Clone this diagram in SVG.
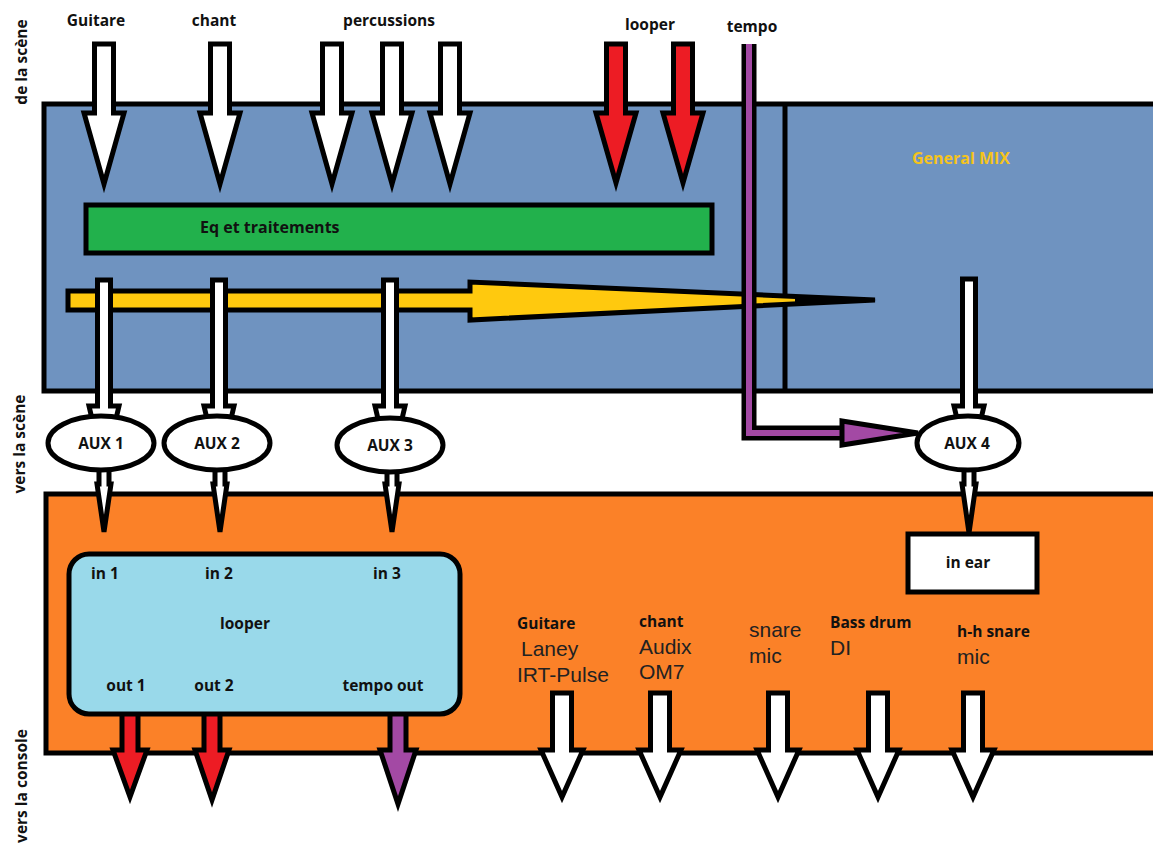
<svg xmlns="http://www.w3.org/2000/svg" width="1153" height="846" viewBox="0 0 1153 846">
<style>
.b{font-family:"Open Sans","Liberation Sans",sans-serif;font-weight:bold;font-size:15.5px;fill:#111;text-anchor:middle}
.r{font-family:"Liberation Sans",Arial,sans-serif;font-size:21px;fill:#222}
.bl{font-family:"Open Sans","Liberation Sans",sans-serif;font-weight:bold;font-size:15.5px;fill:#111}
.k{stroke:#000;stroke-width:5;stroke-linejoin:miter}
.w{fill:#fff}
.red{fill:#ed1c24}
.pur{fill:#a349a4}
</style>
<rect width="1153" height="846" fill="#fff"/>
<g id="side-labels">
<text class="b" transform="translate(27,62) rotate(-90)">de la scène</text>
<text class="b" transform="translate(25,444) rotate(-90)">vers la scène</text>
<text class="b" transform="translate(27,786) rotate(-90)">vers la console</text>
</g>
<g id="panel-mix">
<rect class="k" x="44" y="104" width="1115" height="287" fill="#6f93c0"/>
<line x1="785" y1="104" x2="785" y2="391" stroke="#000" stroke-width="5"/>
<text class="bl" x="912" y="164" style="fill:#f5c31c;font-size:16px">General MIX</text>
</g>
<g id="panel-stage">
<rect class="k" x="46" y="494" width="1113" height="259" fill="#fb8128"/>
</g>
<g id="eq">
<rect class="k" x="86" y="205" width="626" height="48" fill="#22b14c"/>
<text class="bl" x="200" y="233" style="font-size:16px">Eq et traitements</text>
</g>
<g id="top-labels">
<text class="b" x="96" y="26">Guitare</text>
<text class="b" x="214" y="26">chant</text>
<text class="b" x="389" y="26">percussions</text>
<text class="b" x="650" y="30">looper</text>
<text class="b" x="752" y="32">tempo</text>
</g>
<g id="connectors">
<!-- yellow mix arrow -->
<path class="k" d="M68,291 H470 V282 L875,300 L470,320 V310 H68 Z" fill="#ffc90e"/>
<path d="M795,295 L877,300 L795,305 Z" fill="#000"/>
<!-- top inputs -->
<path class="k w" d="M94.5,44 H113.5 V113 H124 L104,184 L84,113 H94.5 Z"/>
<path class="k w" d="M210.5,44 H229.5 V113 H240 L220,184 L200,113 H210.5 Z"/>
<path class="k w" d="M322.5,44 H341.5 V113 H352 L332,184 L312,113 H322.5 Z"/>
<path class="k w" d="M382.5,44 H401.5 V113 H412 L392,184 L372,113 H382.5 Z"/>
<path class="k w" d="M440.5,44 H459.5 V113 H470 L450,184 L430,113 H440.5 Z"/>
<path class="k red" d="M606.5,44 H625.5 V113 H636 L616,183 L596,113 H606.5 Z"/>
<path class="k red" d="M673.5,44 H692.5 V113 H703 L683,183 L663,113 H673.5 Z"/>
<!-- aux feeds -->
<path class="k w" d="M97.5,280 H110.5 V406 H119 L104,470 L89,406 H97.5 Z"/>
<path class="k w" d="M212.5,280 H225.5 V406 H234 L219,470 L204,406 H212.5 Z"/>
<path class="k w" d="M383.5,280 H396.5 V406 H405 L390,470 L375,406 H383.5 Z"/>
<path class="k w" d="M962.5,279 H975.5 V406 H984 L969,470 L954,406 H962.5 Z"/>
<!-- tempo line -->
<path d="M749,44 V433 H842" fill="none" stroke="#000" stroke-width="15" stroke-linejoin="miter"/>
<path d="M749,44 V433 H842" fill="none" stroke="#a349a4" stroke-width="6" stroke-linejoin="miter"/>
<path d="M842,421 L918,433 L842,445 Z" stroke="#000" stroke-width="5" fill="#a349a4" stroke-linejoin="miter"/>
<!-- aux outputs -->
<path class="k w" d="M99,462 H109 V484 H111 L104,532 L97,484 H99 Z"/>
<path class="k w" d="M215,462 H225 V484 H227 L220,532 L213,484 H215 Z"/>
<path class="k w" d="M387,462 H397 V484 H399 L392,532 L385,484 H387 Z"/>
<path class="k w" d="M964,462 H974 V484 H976 L969,533 L962,484 H964 Z"/>
<!-- looper outputs -->
<path class="k red" d="M122,699 H138 V750 H147 L130,797 L113,750 H122 Z"/>
<path class="k red" d="M204,699 H220 V750 H229 L212,800 L195,750 H204 Z"/>
<path class="k pur" d="M390,699 H406 V750 H416 L398,804 L380,750 H390 Z"/>
<!-- stage outputs -->
<path class="k w" d="M552.5,693 H571.5 V750 H583 L562,797 L541,750 H552.5 Z"/>
<path class="k w" d="M650.5,693 H669.5 V750 H681 L660,797 L639,750 H650.5 Z"/>
<path class="k w" d="M768.5,693 H787.5 V750 H799 L778,797 L757,750 H768.5 Z"/>
<path class="k w" d="M868.5,693 H887.5 V750 H899 L878,797 L857,750 H868.5 Z"/>
<path class="k w" d="M963.5,693 H982.5 V750 H994 L973,797 L952,750 H963.5 Z"/>
</g>
<g id="aux1"><ellipse class="k w" cx="101" cy="443" rx="53" ry="27"/><text class="b" x="101" y="449">AUX 1</text></g>
<g id="aux2"><ellipse class="k w" cx="217" cy="443" rx="53" ry="27"/><text class="b" x="217" y="449">AUX 2</text></g>
<g id="aux3"><ellipse class="k w" cx="390" cy="445" rx="53" ry="27"/><text class="b" x="390" y="451">AUX 3</text></g>
<g id="aux4"><ellipse class="k w" cx="968" cy="443" rx="51" ry="27"/><text class="b" x="967" y="449">AUX 4</text></g>
<g id="in-ear"><rect class="k w" x="908" y="534" width="129" height="58"/><text class="b" x="968" y="568">in ear</text></g>
<g id="looper">
<rect class="k" x="69" y="554" width="391" height="160" rx="20" fill="#99d9ea"/>
<text class="b" x="105" y="579">in 1</text>
<text class="b" x="219" y="579">in 2</text>
<text class="b" x="387" y="579">in 3</text>
<text class="b" x="245" y="629">looper</text>
<text class="b" x="126" y="691">out 1</text>
<text class="b" x="214" y="691">out 2</text>
<text class="b" x="383" y="691">tempo out</text>
</g>
<g id="stage-guitare"><text class="bl" x="517" y="629">Guitare</text><text class="r" x="521" y="656">Laney</text><text class="r" x="517" y="682">IRT-Pulse</text></g>
<g id="stage-chant"><text class="bl" x="639" y="627">chant</text><text class="r" x="639" y="654">Audix</text><text class="r" x="639" y="679">OM7</text></g>
<g id="stage-snare"><text class="r" x="749" y="637">snare</text><text class="r" x="749" y="663">mic</text></g>
<g id="stage-bass"><text class="bl" x="830" y="628">Bass drum</text><text class="r" x="830" y="655">DI</text></g>
<g id="stage-hh"><text class="bl" x="957" y="637">h-h snare</text><text class="r" x="957" y="664">mic</text></g>
</svg>
